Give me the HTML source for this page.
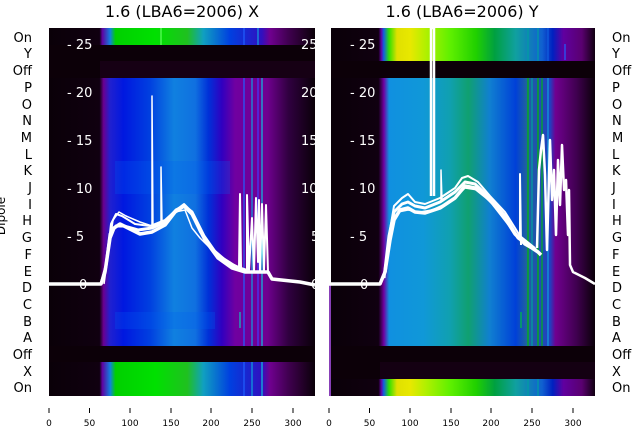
<!DOCTYPE html>
<html><head><meta charset="utf-8"><style>
html,body{margin:0;padding:0;background:#fff;}
svg{display:block;font-family:"DejaVu Sans","Liberation Sans",sans-serif;}
</style></head><body>
<svg width="640" height="440" viewBox="0 0 640 440" xmlns="http://www.w3.org/2000/svg">
<defs>
<linearGradient id="lb" x1="49" x2="315" y1="0" y2="0" gradientUnits="userSpaceOnUse">
<stop offset="0" stop-color="#0a0008"/>
<stop offset="0.19" stop-color="#100010"/>
<stop offset="0.205" stop-color="#6a0090"/>
<stop offset="0.23" stop-color="#2020d0"/>
<stop offset="0.28" stop-color="#0018e0"/>
<stop offset="0.38" stop-color="#0040e0"/>
<stop offset="0.47" stop-color="#1080e0"/>
<stop offset="0.55" stop-color="#1070e0"/>
<stop offset="0.6" stop-color="#0030d8"/>
<stop offset="0.65" stop-color="#3000c0"/>
<stop offset="0.7" stop-color="#7000a0"/>
<stop offset="0.82" stop-color="#700090"/>
<stop offset="0.9" stop-color="#300040"/>
<stop offset="1" stop-color="#0a0008"/>
</linearGradient>
<linearGradient id="lg" x1="49" x2="315" y1="0" y2="0" gradientUnits="userSpaceOnUse">
<stop offset="0" stop-color="#0a0008"/>
<stop offset="0.19" stop-color="#100010"/>
<stop offset="0.2" stop-color="#6000a0"/>
<stop offset="0.23" stop-color="#1080e0"/>
<stop offset="0.25" stop-color="#00d000"/>
<stop offset="0.4" stop-color="#00e000"/>
<stop offset="0.52" stop-color="#20c020"/>
<stop offset="0.58" stop-color="#10a0c0"/>
<stop offset="0.68" stop-color="#0040e0"/>
<stop offset="0.8" stop-color="#3010c0"/>
<stop offset="0.83" stop-color="#700090"/>
<stop offset="0.9" stop-color="#400050"/>
<stop offset="1" stop-color="#0a0008"/>
</linearGradient>
<linearGradient id="rb" x1="331" x2="595" y1="0" y2="0" gradientUnits="userSpaceOnUse">
<stop offset="0" stop-color="#0a0008"/>
<stop offset="0.18" stop-color="#100010"/>
<stop offset="0.2" stop-color="#7000a0"/>
<stop offset="0.22" stop-color="#1090e0"/>
<stop offset="0.35" stop-color="#1098d8"/>
<stop offset="0.45" stop-color="#10a0b0"/>
<stop offset="0.52" stop-color="#10a070"/>
<stop offset="0.6" stop-color="#1080d0"/>
<stop offset="0.7" stop-color="#0040d8"/>
<stop offset="0.74" stop-color="#2060a0"/>
<stop offset="0.83" stop-color="#2040c0"/>
<stop offset="0.85" stop-color="#700090"/>
<stop offset="0.93" stop-color="#400050"/>
<stop offset="1" stop-color="#0a0008"/>
</linearGradient>
<linearGradient id="ry" x1="331" x2="595" y1="0" y2="0" gradientUnits="userSpaceOnUse">
<stop offset="0" stop-color="#0a0008"/>
<stop offset="0.18" stop-color="#100010"/>
<stop offset="0.19" stop-color="#6000a0"/>
<stop offset="0.2" stop-color="#1060e0"/>
<stop offset="0.22" stop-color="#30e000"/>
<stop offset="0.25" stop-color="#e0e000"/>
<stop offset="0.3" stop-color="#e8e800"/>
<stop offset="0.36" stop-color="#b0f000"/>
<stop offset="0.45" stop-color="#60f000"/>
<stop offset="0.55" stop-color="#20d000"/>
<stop offset="0.62" stop-color="#00a040"/>
<stop offset="0.7" stop-color="#10a0a0"/>
<stop offset="0.8" stop-color="#1060d0"/>
<stop offset="0.84" stop-color="#0020c0"/>
<stop offset="0.88" stop-color="#6000a0"/>
<stop offset="0.95" stop-color="#5a0070"/>
<stop offset="1" stop-color="#100010"/>
</linearGradient>
</defs>

<text x="182" y="17" font-size="16" text-anchor="middle" fill="#000">1.6 (LBA6=2006) X</text>
<text x="462" y="17" font-size="16" text-anchor="middle" fill="#000">1.6 (LBA6=2006) Y</text>

<!-- LEFT PANEL -->
<rect x="49" y="28" width="266" height="368" fill="#0a0008"/>
<rect x="49" y="28" width="266" height="17" fill="url(#lg)"/>
<rect x="49" y="45" width="266" height="33" fill="#0c0008"/>
<rect x="100" y="61" width="215" height="17" fill="#160014"/>
<rect x="49" y="78" width="266" height="268" fill="url(#lb)"/>
<rect x="49" y="346" width="266" height="16" fill="#0c0008"/>
<rect x="49" y="362" width="266" height="34" fill="url(#lg)"/>
<g fill="#0060f0" opacity="0.25">
<rect x="115" y="161" width="115" height="33"/>
<rect x="115" y="312" width="100" height="17"/>
</g>
<g stroke-width="1.2">
<line x1="244" y1="78" x2="244" y2="346" stroke="#2060ff"/>
<line x1="252" y1="78" x2="252" y2="346" stroke="#10a0e0"/>
<line x1="258" y1="78" x2="258" y2="346" stroke="#4040ff"/>
<line x1="262" y1="78" x2="262" y2="346" stroke="#10c0e0"/>
<line x1="244" y1="362" x2="244" y2="396" stroke="#2060ff"/>
<line x1="252" y1="362" x2="252" y2="396" stroke="#10a0e0"/>
<line x1="262" y1="362" x2="262" y2="396" stroke="#10c0e0"/>
<line x1="244" y1="28" x2="244" y2="45" stroke="#2060ff"/>
<line x1="258" y1="28" x2="258" y2="45" stroke="#10a0e0"/>
<line x1="161" y1="28" x2="161" y2="45" stroke="#60ff60"/>
<line x1="240" y1="312" x2="240" y2="328" stroke="#10c0c0"/>
</g>
<g fill="#fff" font-size="13">
<text x="67" y="49">- 25</text>
<text x="67" y="97">- 20</text>
<text x="67" y="145">- 15</text>
<text x="67" y="193">- 10</text>
<text x="67" y="241">- 5</text>
<text x="79" y="289">0</text>
<text x="301" y="49">25</text>
<text x="301" y="97">20</text>
<text x="301" y="145">15</text>
<text x="301" y="193">10</text>
<text x="311" y="241">5</text>
<text x="311" y="289">0</text>
</g>
<g fill="none" stroke="#fff" stroke-linejoin="round">
<polyline stroke-width="3.5" points="49,284 101,284 105,272 110,238 114,228 120,224 128,228 140,234 152,232 165,225 175,212 184,206 192,214 205,240 218,258 232,268 245,272 268,272 272,279 300,282 315,285"/>
<polyline stroke-width="3" points="101,284 106,266 110,234 116,226 124,226 138,230 152,228 165,222 176,210 184,206 192,212 204,236 218,256 232,266 245,270"/>
<polyline stroke-width="2" points="101,284 106,268 111,224 116,214 122,216 135,224 150,226 165,220 176,210 184,204 190,210 200,232 214,250 228,262 245,270"/>
<polyline stroke-width="1.5" points="104,284 108,256 113,220 119,212 126,216 140,222 152,226 163,222 175,212 185,210 192,228 200,238 214,252 230,262 245,272"/>
<polyline stroke-width="1.5" points="152,228 152,96 153,228 161,222 161,167 162,222"/>
<polyline stroke-width="2" points="239,268 240,194 241,268 247,270 247,195 249,270 252,218 254,272 256,198 258,262 259,200 260,272 262,204 264,270 266,205 268,272"/>
</g>

<!-- RIGHT PANEL -->
<rect x="331" y="28" width="264" height="368" fill="#0a0008"/>
<rect x="331" y="28" width="264" height="33" fill="url(#ry)"/>
<rect x="331" y="61" width="264" height="17" fill="#0c0008"/>
<rect x="331" y="78" width="264" height="268" fill="url(#rb)"/>
<rect x="331" y="346" width="264" height="33" fill="#0c0008"/>
<rect x="380" y="362" width="215" height="17" fill="#140012"/>
<rect x="331" y="379" width="264" height="17" fill="url(#ry)"/>
<line x1="330" y1="284" x2="330" y2="396" stroke="#6000a0" stroke-width="1.5"/>
<g stroke-width="1.2">
<line x1="528" y1="78" x2="528" y2="346" stroke="#00c000"/>
<line x1="532" y1="78" x2="532" y2="346" stroke="#00a0a0"/>
<line x1="538" y1="78" x2="538" y2="346" stroke="#00c000"/>
<line x1="542" y1="78" x2="542" y2="346" stroke="#00b020"/>
<line x1="548" y1="78" x2="548" y2="346" stroke="#10a0e0"/>
<line x1="528" y1="28" x2="528" y2="61" stroke="#00a0a0"/>
<line x1="538" y1="28" x2="538" y2="61" stroke="#00a0a0"/>
<line x1="548" y1="28" x2="548" y2="61" stroke="#1060e0"/>
<line x1="565" y1="44" x2="565" y2="60" stroke="#2060ff"/>
<line x1="528" y1="379" x2="528" y2="396" stroke="#00a0a0"/>
<line x1="538" y1="379" x2="538" y2="396" stroke="#00a0a0"/>
<line x1="521" y1="312" x2="521" y2="328" stroke="#00c040"/>
</g>
<g fill="#fff" font-size="13">
<text x="350" y="49">- 25</text>
<text x="350" y="97">- 20</text>
<text x="350" y="145">- 15</text>
<text x="350" y="193">- 10</text>
<text x="350" y="241">- 5</text>
<text x="360" y="289">0</text>
</g>
<g fill="none" stroke="#fff" stroke-linejoin="round">
<polyline stroke-width="3.5" points="329,284 380,284 385,272 390,240 394,220 400,210 408,208 415,212 425,213 440,208 455,198 465,186 475,188 490,200 505,218 515,234 525,244 532,248 538,252 541,255"/>
<polyline stroke-width="3" points="384,278 389,236 394,212 402,204 408,202 415,206 425,208 440,202 455,192 465,182 475,184 490,198 505,216 518,238 536,250"/>
<polyline stroke-width="2" points="384,278 389,236 394,206 402,198 408,194 415,202 425,204 440,198 455,188 462,178 468,176 478,182 490,196 505,212 520,236 535,248"/>
<polyline stroke-width="1.5" points="386,272 392,220 398,212 408,210 420,212 432,210 445,204 455,198 465,188 478,190 492,204 506,222 520,240 536,250"/>
<polyline stroke-width="2.5" points="431,196 431,28 434,28 434,196"/>
<polyline stroke-width="1.5" points="441,200 441,170 442,200"/>
<polyline stroke-width="2" points="520,240 520,174 521,245"/>
<polyline stroke-width="2.5" points="537,248 539,170 541,150 543,135 545,175 547,250 550,140 552,200 554,170 556,235 558,160 560,205 562,145 564,190 566,180 568,235 569,190 570,265 573,272 585,278 595,284"/>
</g>

<g font-size="13" fill="#000">
<g text-anchor="end">
<text x="32" y="42">On</text><text x="32" y="58">Y</text><text x="32" y="75">Off</text>
<text x="32" y="92">P</text><text x="32" y="109">O</text><text x="32" y="125">N</text>
<text x="32" y="142">M</text><text x="32" y="159">L</text><text x="32" y="175">K</text>
<text x="32" y="192">J</text><text x="32" y="209">I</text><text x="32" y="225">H</text>
<text x="32" y="242">G</text><text x="32" y="259">F</text><text x="32" y="276">E</text>
<text x="32" y="292">D</text><text x="32" y="309">C</text><text x="32" y="326">B</text>
<text x="32" y="342">A</text><text x="32" y="359">Off</text><text x="32" y="376">X</text>
<text x="32" y="392">On</text>
</g>
<g text-anchor="start">
<text x="612" y="42">On</text><text x="612" y="58">Y</text><text x="612" y="75">Off</text>
<text x="612" y="92">P</text><text x="612" y="109">O</text><text x="612" y="125">N</text>
<text x="612" y="142">M</text><text x="612" y="159">L</text><text x="612" y="175">K</text>
<text x="612" y="192">J</text><text x="612" y="209">I</text><text x="612" y="225">H</text>
<text x="612" y="242">G</text><text x="612" y="259">F</text><text x="612" y="276">E</text>
<text x="612" y="292">D</text><text x="612" y="309">C</text><text x="612" y="326">B</text>
<text x="612" y="342">A</text><text x="612" y="359">Off</text><text x="612" y="376">X</text>
<text x="612" y="392">On</text>
</g>
<text transform="translate(5,216) rotate(-90)" text-anchor="middle" font-size="12">Dipole</text>
</g>

<g stroke="#000" stroke-width="1">
<line x1="49" y1="408" x2="49" y2="413"/><line x1="89.5" y1="408" x2="89.5" y2="413"/>
<line x1="130" y1="408" x2="130" y2="413"/><line x1="171" y1="408" x2="171" y2="413"/>
<line x1="211" y1="408" x2="211" y2="413"/><line x1="252" y1="408" x2="252" y2="413"/>
<line x1="293" y1="408" x2="293" y2="413"/>
<line x1="329" y1="408" x2="329" y2="413"/><line x1="369.5" y1="408" x2="369.5" y2="413"/>
<line x1="410" y1="408" x2="410" y2="413"/><line x1="451" y1="408" x2="451" y2="413"/>
<line x1="491" y1="408" x2="491" y2="413"/><line x1="532" y1="408" x2="532" y2="413"/>
<line x1="573" y1="408" x2="573" y2="413"/>
</g>
<g font-size="9" fill="#000" text-anchor="middle">
<text x="49" y="426">0</text><text x="89.5" y="426">50</text><text x="130" y="426">100</text>
<text x="171" y="426">150</text><text x="211" y="426">200</text><text x="252" y="426">250</text>
<text x="293" y="426">300</text>
<text x="329" y="426">0</text><text x="369.5" y="426">50</text><text x="410" y="426">100</text>
<text x="451" y="426">150</text><text x="491" y="426">200</text><text x="532" y="426">250</text>
<text x="573" y="426">300</text>
</g>
</svg>
</body></html>
